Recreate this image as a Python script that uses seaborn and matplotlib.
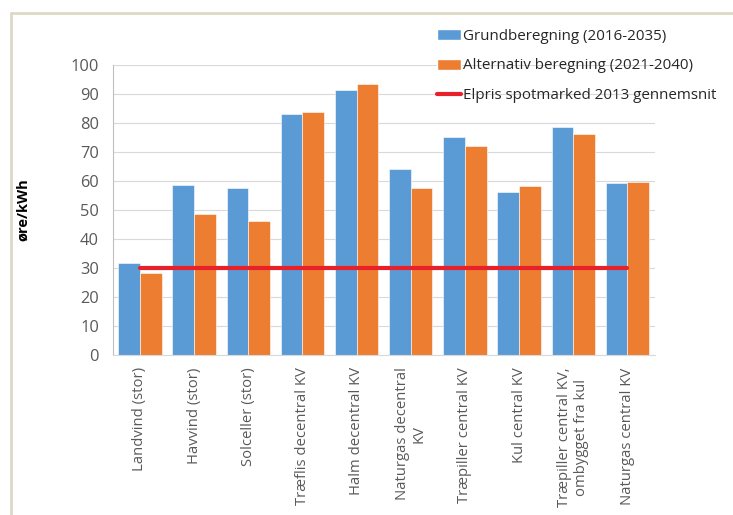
import numpy as np
import pandas as pd
import matplotlib
matplotlib.use('Agg')
from matplotlib import pyplot as plt
from matplotlib.lines import Line2D
from matplotlib.patches import Patch
import seaborn as sns

# data
kategorier = ['Landvind (stor)', 'Havvind (stor)', 'Solceller (stor)',
              'Træflis decentral KV', 'Halm decentral KV', 'Naturgas decentral\nKV',
              'Træpiller central KV', 'Kul central KV',
              'Træpiller central KV,\nombygget fra kul', 'Naturgas central KV']
grund = [31.6, 58.6, 57.6, 83.2, 91.3, 64.0, 75.3, 56.1, 78.5, 59.2]
alternativ = [28.1, 48.6, 46.0, 83.9, 93.4, 57.5, 72.1, 58.3, 76.3, 59.5]
elpris = [30] * len(kategorier)
serier = ['Grundberegning (2016-2035)', 'Alternativ beregning (2021-2040)']
elpris_navn = 'Elpris spotmarked 2013 gennemsnit'

df = pd.DataFrame({
    'kategori': kategorier * 2,
    'vaerdi': grund + alternativ,
    'serie': [serier[0]] * len(kategorier) + [serier[1]] * len(kategorier),
})

blaa = '#5B9BD5'
orange = '#ED7D31'
roed = '#E8202A'

sns.set_style('white')
plt.rcParams['font.family'] = ['Open Sans', 'DejaVu Sans']

fig = plt.figure(figsize=(7.33, 5.15), dpi=100)
ax = fig.add_axes([0.154, 0.311, 0.739, 0.563])

sns.barplot(data=df, x='kategori', y='vaerdi', hue='serie', palette=[blaa, orange],
            saturation=1, width=0.8, edgecolor='white', linewidth=0.4, ax=ax, legend=False)
ax.plot(np.arange(len(kategorier)), elpris, color=roed, lw=3, zorder=5)

ax.set_ylim(0, 100)
ax.set_xlim(-0.5, len(kategorier) - 0.5)
ax.set_yticks(np.arange(0, 101, 10))
ax.yaxis.grid(True, color='#d9d9d9', lw=0.8)
ax.set_axisbelow(True)
ax.set_xlabel('')
ax.set_ylabel('øre/kWh', fontsize=10.5, fontweight='bold', color='black')
ax.yaxis.set_label_coords(-0.153, 0.5)
ax.tick_params(axis='y', length=0, pad=10, labelsize=11.8, labelcolor='#595959')
ax.tick_params(axis='x', length=0, pad=9, labelsize=10.7, labelcolor='#595959')
ax.set_xticks(np.arange(len(kategorier)))
ax.set_xticklabels(kategorier, rotation=90, ha='center', va='top', multialignment='center')
for s in ['top', 'right']:
    ax.spines[s].set_visible(False)
ax.spines['left'].set_color('#bfbfbf')
ax.spines['bottom'].set_color('#d9d9d9')
ax.spines['left'].set_linewidth(0.8)
ax.spines['bottom'].set_linewidth(0.8)

handles = [Patch(facecolor=blaa), Patch(facecolor=orange), Line2D([0], [0], color=roed, lw=3)]
fig.legend(handles, serier + [elpris_navn], loc='upper left', bbox_to_anchor=(0.588, 0.956),
           frameon=False, fontsize=10.9, handlelength=1.55, handleheight=0.75,
           handletextpad=0.15, labelspacing=0.97, borderaxespad=0)

# ramme
ramme = '#ddd9c4'
y_top = 1 - 13 / 515
x_left = 10.5 / 733
fig.add_artist(Line2D([x_left, 1], [y_top, y_top], color=ramme, lw=2, transform=fig.transFigure))
fig.add_artist(Line2D([x_left, x_left], [0, y_top], color=ramme, lw=2, transform=fig.transFigure))

fig.savefig('out.png', dpi=100)
